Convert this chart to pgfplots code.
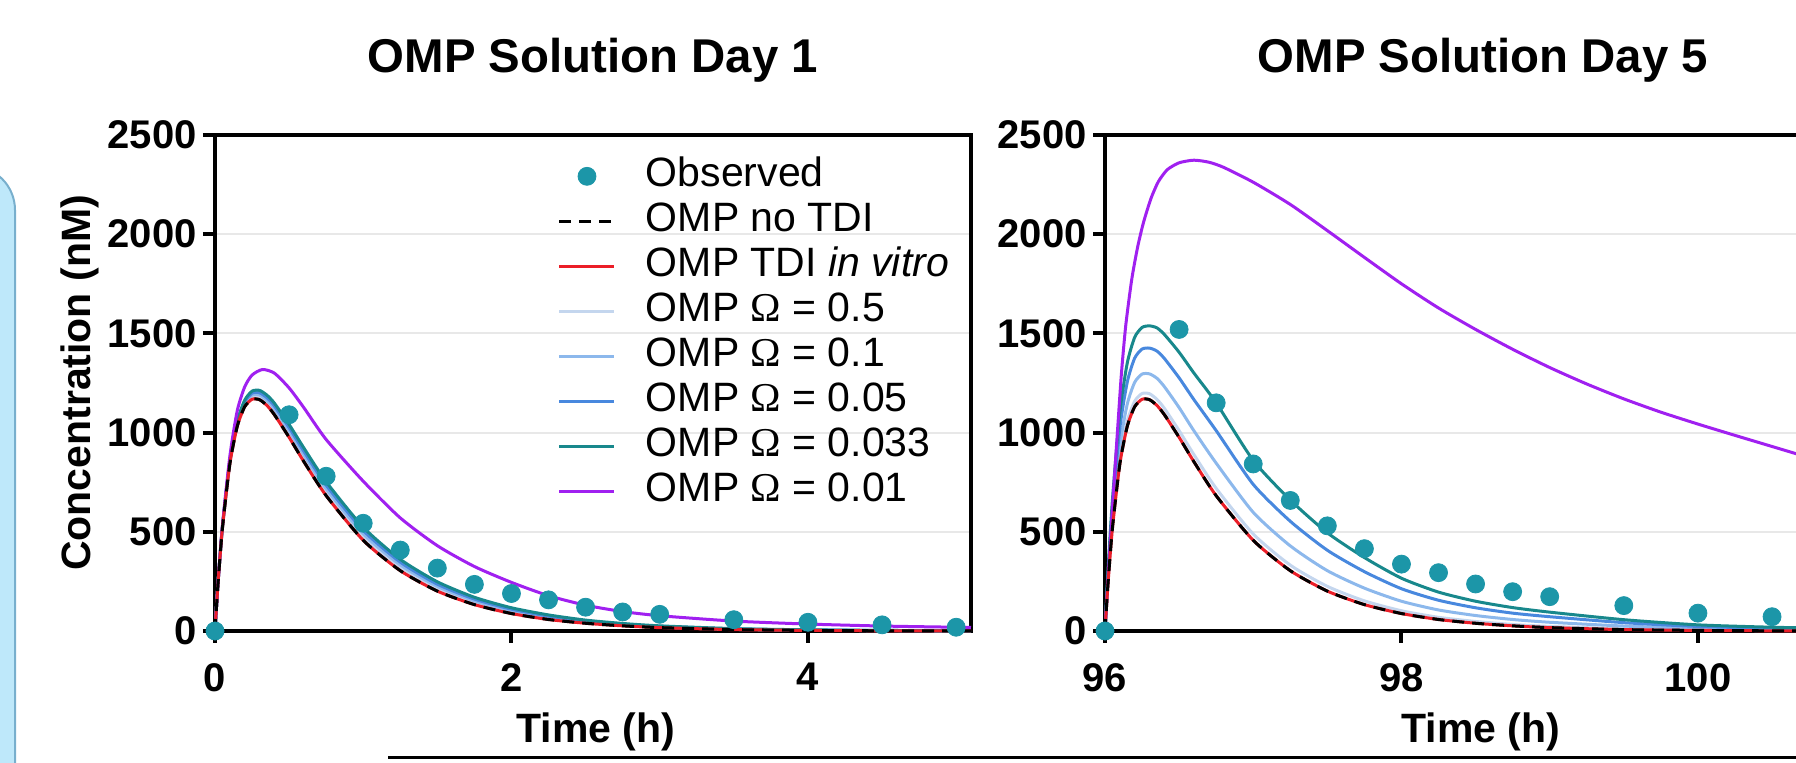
\documentclass[border=0pt]{standalone}
\usepackage{fontspec}
\setmainfont{Liberation Sans}
\newfontfamily\serifomega{Liberation Serif}
\usepackage{pgfplots}
\usepackage{pgfplotstable}
\pgfplotsset{compat=1.18}

\definecolor{obs}{RGB}{28,150,168}
\definecolor{invitro}{RGB}{235,30,40}
\definecolor{omA}{RGB}{196,214,238}
\definecolor{omB}{RGB}{140,184,236}
\definecolor{omC}{RGB}{72,136,222}
\definecolor{omD}{RGB}{24,136,140}
\definecolor{omE}{RGB}{160,32,240}
\definecolor{gridc}{RGB}{232,232,232}
\definecolor{boxfill}{RGB}{190,232,250}
\definecolor{boxdraw}{RGB}{120,175,205}

% Day 1 simulated curves: t, no TDI (= in vitro), Omega 0.5, 0.1, 0.05, 0.033
\pgfplotstableread{
t black o05 o01 o005 o0033
0 0 0 0 0 0
0.02 235 236 237 237 238
0.05 517 519 521 523 525
0.1 841 845 849 853 857
0.15 1031 1037 1044 1050 1056
0.2 1130 1138 1147 1155 1163
0.25 1168 1178 1189 1199 1209
0.3 1166 1178 1190 1201 1213
0.35 1137 1150 1163 1176 1189
0.4 1091 1106 1120 1135 1149
0.5 976 992 1009 1025 1041
0.6 853 870 888 905 922
0.75 682 700 717 735 752
1.0 457 474 490 507 523
1.25 304 318 333 347 361
1.5 201 213 225 236 248
1.75 133 142 152 161 170
2.0 88 95 103 110 117
2.25 58 64 70 75 81
2.5 39 43 47 51 55
2.75 26 29 32 35 38
3.0 17 19 22 24 26
3.5 7 8 10 11 12
4.0 3 4 5 5 6
4.5 1 2 2 3 3
5.0 1 1 1 1 1
5.1 0 1 1 1 1
}\dayone

\pgfplotstableread{
t c
0 0
0.02 240
0.05 530
0.1 880
0.15 1110
0.2 1230
0.25 1290
0.32 1318
0.4 1300
0.5 1225
0.6 1125
0.75 965
1.0 755
1.25 570
1.5 430
1.75 325
2.0 245
2.25 178
2.5 130
2.75 98
3.0 77
3.5 50
4.0 35
4.5 25
5.0 19
5.1 18
}\dayonepurple

\pgfplotstableread{
t c
0 0
0.5 1090
0.75 780
1.0 543
1.25 408
1.5 317
1.75 235
2.0 189
2.25 157
2.5 120
2.75 96
3.0 84
3.5 57
4.0 44
4.5 31
5.0 19
}\dayoneobs

% Day 5 simulated curves
\pgfplotstableread{
t black o05 o01 o005 o0033
96 0 0 0 0 0
96.02 235 240 258 281 300
96.05 517 528 567 617 660
96.1 841 862 932 1022 1100
96.15 1031 1057 1143 1254 1350
96.2 1130 1158 1253 1375 1480
96.25 1168 1197 1295 1421 1530
96.3 1166 1196 1296 1426 1538
96.35 1137 1168 1274 1411 1528
96.4 1091 1123 1232 1374 1495
96.5 976 1010 1126 1276 1405
96.6 853 889 1009 1166 1300
96.75 682 719 846 1010 1150
97.0 457 489 598 739 860
97.25 304 332 429 553 660
97.5 201 225 304 407 495
97.75 133 152 216 299 370
98.0 88 102 150 213 266
98.25 58 69 106 155 196
98.5 39 48 78 117 150
98.75 26 33 58 90 118
99.0 17 23 44 72 95
99.5 7 11 25 42 57
100.0 3 5 13 23 31
100.5 1 2 7 14 19
101.0 1 2 5 9 12
101.1 0 1 4 8 11
}\dayfive

\pgfplotstableread{
t c
96 0
96.02 260
96.05 620
96.08 960
96.11 1290
96.14 1540
96.18 1770
96.22 1935
96.26 2060
96.31 2180
96.36 2265
96.42 2325
96.5 2360
96.6 2373
96.7 2363
96.8 2337
97.0 2262
97.25 2150
97.5 2018
97.75 1883
98.0 1750
98.25 1628
98.5 1520
98.75 1420
99.0 1328
99.25 1245
99.5 1170
99.75 1103
100.0 1043
100.25 986
100.5 930
100.75 874
101.0 818
101.1 796
}\dayfivepurple

\pgfplotstableread{
t c
96 0
96.5 1520
96.75 1150
97.0 842
97.25 658
97.5 530
97.75 415
98.0 337
98.25 294
98.5 237
98.75 198
99.0 173
99.5 128
100.0 90
100.5 72
}\dayfiveobs

\pgfplotsset{
  omp/.style={
    scale only axis, width=378pt, height=248pt,
    ymin=0, ymax=2500, ytick={0,500,1000,1500,2000,2500},
    ymajorgrids, grid style={line width=1pt, gridc},
    axis line style={line width=2pt},
    tick align=outside, major tick length=6pt,
    tick style={black, line width=2pt},
    xtick pos=left, ytick pos=left,
    ticklabel style={font=\fontsize{20}{20}\selectfont\bfseries},
    yticklabel style={anchor=east, inner sep=0pt, xshift=-3pt},
    xticklabel style={anchor=north, inner sep=0pt, yshift=-10pt},
    /pgf/number format/assume math mode=true,
    /pgf/number format/1000 sep={},
    clip=false,
  },
  sim/.style={line width=1.5pt, smooth, tension=0.4, mark=none, forget plot},
}

\begin{document}
\begin{tikzpicture}
\path[use as bounding box] (0pt,0pt) rectangle (898pt,381pt);
\clip (0pt,0pt) rectangle (898pt,381pt);

\path[draw=boxdraw, line width=1pt, fill=boxfill, rounded corners=22pt] (-50pt,-25pt) rectangle (7.5pt,298pt);
\draw[line width=1.5pt] (194pt,2.5pt) -- (900pt,2.5pt);

% ---------- Day 1 ----------
\begin{axis}[omp, at={(107.5pt,65.5pt)}, anchor=south west,
  xmin=0, xmax=5.1, xtick={0,2,4},
  legend style={at={(0.4537,0.956)}, anchor=north west, draw=none, fill=none,
    inner sep=0pt, outer sep=0pt, font=\fontsize{20.5}{22}\selectfont,
    row sep=3pt, column sep=15pt,
    nodes={inner sep=0pt, text height=15pt, text depth=4.5pt}},
  legend cell align=left,
  legend image code/.code={\draw[mark repeat=2,mark phase=2,#1] plot coordinates {(0pt,0pt) (13.75pt,0pt) (27.5pt,0pt)};},
]
\addlegendimage{only marks, mark=*, mark size=4.5pt, mark options={fill=obs, draw=obs}}
\addlegendentry{Observed}
\addlegendimage{black, line width=1.5pt, mark=none, dash pattern=on 6pt off 4pt}
\addlegendentry{OMP no TDI}
\addlegendimage{invitro, line width=1.5pt, mark=none}
\addlegendentry{OMP TDI \textit{in vitro}}
\addlegendimage{omA, line width=1.5pt, mark=none}
\addlegendentry{OMP {\serifomega Ω} = 0.5}
\addlegendimage{omB, line width=1.5pt, mark=none}
\addlegendentry{OMP {\serifomega Ω} = 0.1}
\addlegendimage{omC, line width=1.5pt, mark=none}
\addlegendentry{OMP {\serifomega Ω} = 0.05}
\addlegendimage{omD, line width=1.5pt, mark=none}
\addlegendentry{OMP {\serifomega Ω} = 0.033}
\addlegendimage{omE, line width=1.5pt, mark=none}
\addlegendentry{OMP {\serifomega Ω} = 0.01}

\addplot[sim, omA] table[x=t, y=o05] {\dayone};
\addplot[sim, omB] table[x=t, y=o01] {\dayone};
\addplot[sim, omC] table[x=t, y=o005] {\dayone};
\addplot[sim, omD] table[x=t, y=o0033] {\dayone};
\addplot[sim, omE] table[x=t, y=c] {\dayonepurple};
\addplot[sim, invitro] table[x=t, y=black] {\dayone};
\addplot[sim, black, dash pattern=on 6pt off 4pt] table[x=t, y=black] {\dayone};
\addplot[only marks, mark=*, mark size=4.5pt, mark options={fill=obs, draw=obs}, forget plot] table[x=t, y=c] {\dayoneobs};
\end{axis}

% ---------- Day 5 ----------
\begin{axis}[omp, at={(552.5pt,65.5pt)}, anchor=south west,
  xmin=96, xmax=101.1, xtick={96,98,100}]
\addplot[sim, omA] table[x=t, y=o05] {\dayfive};
\addplot[sim, omB] table[x=t, y=o01] {\dayfive};
\addplot[sim, omC] table[x=t, y=o005] {\dayfive};
\addplot[sim, omD] table[x=t, y=o0033] {\dayfive};
\addplot[sim, omE] table[x=t, y=c] {\dayfivepurple};
\addplot[sim, invitro] table[x=t, y=black] {\dayfive};
\addplot[sim, black, dash pattern=on 6pt off 4pt] table[x=t, y=black] {\dayfive};
\addplot[only marks, mark=*, mark size=4.5pt, mark options={fill=obs, draw=obs}, forget plot] table[x=t, y=c] {\dayfiveobs};
\end{axis}

\node[font=\fontsize{23.7}{24}\selectfont\bfseries, anchor=base] at (296.5pt,344.5pt) {OMP Solution Day 1};
\node[font=\fontsize{23.7}{24}\selectfont\bfseries, anchor=base] at (741.5pt,344.5pt) {OMP Solution Day 5};
\node[font=\fontsize{20.5}{21}\selectfont\bfseries, anchor=base] at (298pt,10pt) {Time (h)};
\node[font=\fontsize{20.5}{21}\selectfont\bfseries, anchor=base] at (740.5pt,10pt) {Time (h)};
\node[font=\fontsize{20.5}{21}\selectfont\bfseries, rotate=90] at (40pt,189.5pt) {Concentration (nM)};
\end{tikzpicture}
\end{document}
